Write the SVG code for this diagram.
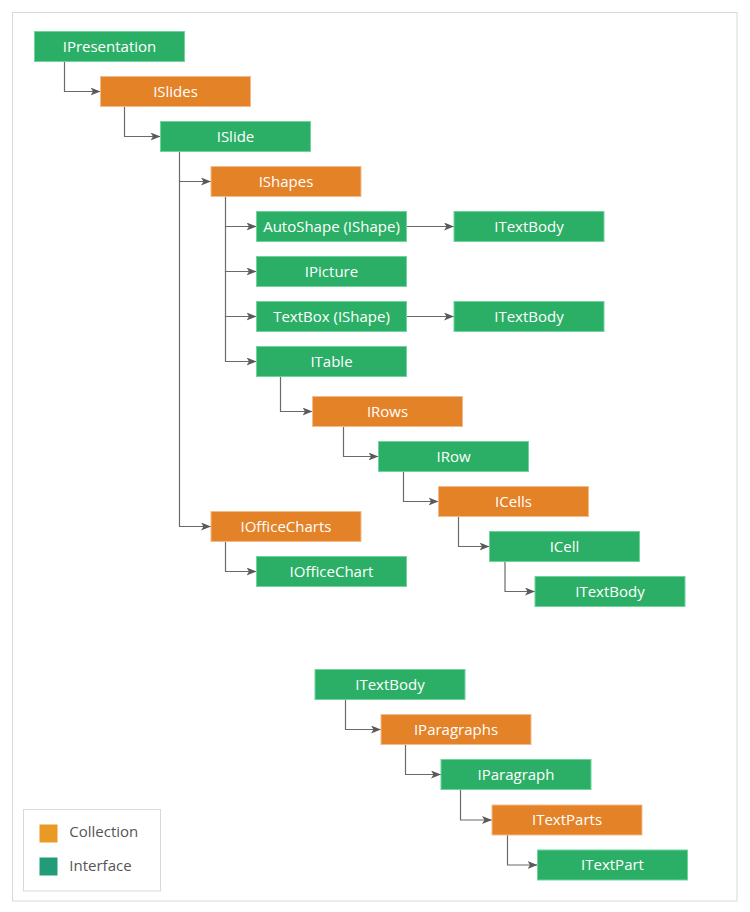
<svg xmlns="http://www.w3.org/2000/svg" width="750" height="912" viewBox="0 0 750 912">
<style>
.g{fill:#2BAF66;stroke:#6ED49C;stroke-width:1}
.o{fill:#E48228;stroke:#F3BB8C;stroke-width:1}
.t{font-family:"Open Sans","Noto Sans",sans-serif;font-size:15px;fill:#fff;text-anchor:middle}
.c{fill:none;stroke:#6a6a6a;stroke-width:1.2;marker-end:url(#ah)}
.lt{font-family:"Open Sans","Noto Sans",sans-serif;font-size:15px;fill:#555}
</style>
<defs>
<marker id="ah" markerUnits="userSpaceOnUse" markerWidth="10" markerHeight="8" refX="10" refY="4" orient="auto">
<path d="M0,0 L10,4 L0,8 L2.5,4 z" fill="#5a5a5a"/>
</marker>
</defs>
<rect x="12.5" y="12.5" width="724.5" height="888.5" fill="#fff" stroke="#d9d9d9" stroke-width="1"/>
<g id="connectors">
<path class="c" d="M64.5,61.5 V91.5 H100.5"/>
<path class="c" d="M124.5,106.5 V136.5 H160.5"/>
<path class="c" d="M179.5,151.5 V181.5 H211"/>
<path class="c" d="M179.5,181.5 V526.5 H211"/>
<path class="c" d="M225.5,196.5 V226.5 H256.5"/>
<path class="c" d="M225.5,226.5 V271.5 H256.5"/>
<path class="c" d="M225.5,271.5 V316.5 H256.5"/>
<path class="c" d="M225.5,316.5 V361.5 H256.5"/>
<path class="c" d="M406.5,226.5 H454"/>
<path class="c" d="M406.5,316.5 H454"/>
<path class="c" d="M280.5,376.5 V411.5 H312.5"/>
<path class="c" d="M343.5,426.5 V456.5 H378.5"/>
<path class="c" d="M403.5,471.5 V501.5 H438.5"/>
<path class="c" d="M458.5,516.5 V546.5 H489.5"/>
<path class="c" d="M505,561.5 V591.5 H535"/>
<path class="c" d="M225.5,541.5 V571.5 H256.5"/>
<path class="c" d="M345.5,699.5 V729.5 H381"/>
<path class="c" d="M405.5,744.5 V774.5 H441"/>
<path class="c" d="M460.5,789.5 V820 H492"/>
<path class="c" d="M507.5,835 V865 H537.5"/>
</g>
<g id="IPresentation"><rect class="g" x="34.5" y="31.5" width="150" height="30"/><text class="t" x="109.5" y="51.5">IPresentation</text></g>
<g id="ISlides"><rect class="o" x="100.5" y="76.5" width="150" height="30"/><text class="t" x="175.5" y="96.5">ISlides</text></g>
<g id="ISlide"><rect class="g" x="160.5" y="121.5" width="150" height="30"/><text class="t" x="235.5" y="141.5">ISlide</text></g>
<g id="IShapes"><rect class="o" x="211" y="166.5" width="150" height="30"/><text class="t" x="286" y="186.5">IShapes</text></g>
<g id="AutoShape"><rect class="g" x="256.5" y="211.5" width="150" height="30"/><text class="t" x="331.5" y="231.5">AutoShape (IShape)</text></g>
<g id="ITextBody1"><rect class="g" x="454" y="211.5" width="150" height="30"/><text class="t" x="529" y="231.5">ITextBody</text></g>
<g id="IPicture"><rect class="g" x="256.5" y="256.5" width="150" height="30"/><text class="t" x="331.5" y="276.5">IPicture</text></g>
<g id="TextBox"><rect class="g" x="256.5" y="301.5" width="150" height="30"/><text class="t" x="331.5" y="321.5">TextBox (IShape)</text></g>
<g id="ITextBody2"><rect class="g" x="454" y="301.5" width="150" height="30"/><text class="t" x="529" y="321.5">ITextBody</text></g>
<g id="ITable"><rect class="g" x="256.5" y="346.5" width="150" height="30"/><text class="t" x="331.5" y="366.5">ITable</text></g>
<g id="IRows"><rect class="o" x="312.5" y="396.5" width="150" height="30"/><text class="t" x="387.5" y="416.5">IRows</text></g>
<g id="IRow"><rect class="g" x="378.5" y="441.5" width="150" height="30"/><text class="t" x="453.5" y="461.5">IRow</text></g>
<g id="ICells"><rect class="o" x="438.5" y="486.5" width="150" height="30"/><text class="t" x="513.5" y="506.5">ICells</text></g>
<g id="IOfficeCharts"><rect class="o" x="211" y="511.5" width="150" height="30"/><text class="t" x="286" y="531.5">IOfficeCharts</text></g>
<g id="ICell"><rect class="g" x="489.5" y="531.5" width="150" height="30"/><text class="t" x="564.5" y="551.5">ICell</text></g>
<g id="IOfficeChart"><rect class="g" x="256.5" y="556.5" width="150" height="30"/><text class="t" x="331.5" y="576.5">IOfficeChart</text></g>
<g id="ITextBody3"><rect class="g" x="535" y="576.5" width="150" height="30"/><text class="t" x="610" y="596.5">ITextBody</text></g>
<g id="ITextBody4"><rect class="g" x="315" y="669.5" width="150" height="30"/><text class="t" x="390" y="689.5">ITextBody</text></g>
<g id="IParagraphs"><rect class="o" x="381" y="714.5" width="150" height="30"/><text class="t" x="456" y="734.5">IParagraphs</text></g>
<g id="IParagraph"><rect class="g" x="441" y="759.5" width="150" height="30"/><text class="t" x="516" y="779.5">IParagraph</text></g>
<g id="ITextParts"><rect class="o" x="492" y="805" width="150" height="30"/><text class="t" x="567" y="825">ITextParts</text></g>
<g id="ITextPart"><rect class="g" x="537.5" y="850" width="150" height="30"/><text class="t" x="612.5" y="870">ITextPart</text></g>
<g id="legend">
<rect x="23.5" y="809.5" width="137" height="81.5" fill="#fff" stroke="#d9d9d9" stroke-width="1"/>
<rect x="39.5" y="824.5" width="18" height="18" fill="#E99A24"/>
<text class="lt" x="69.3" y="837">Collection</text>
<rect x="39.5" y="857.5" width="18" height="18" fill="#229C78"/>
<text class="lt" x="69.3" y="871">Interface</text>
</g>
</svg>
